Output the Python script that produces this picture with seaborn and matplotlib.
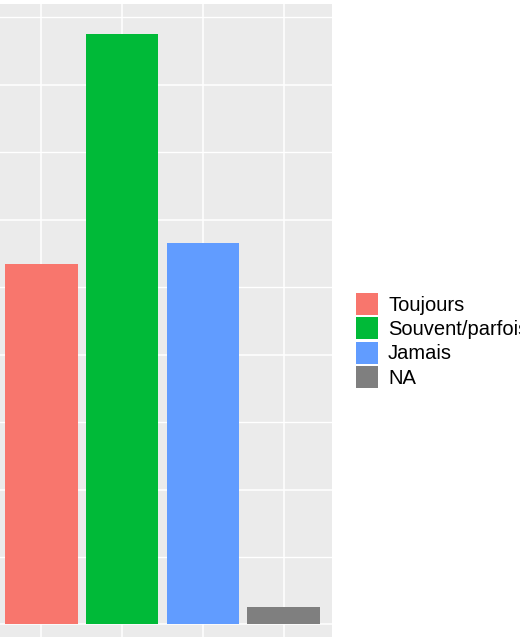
import matplotlib
matplotlib.use("Agg")
import matplotlib.pyplot as plt
import seaborn as sns
import pandas as pd
from matplotlib.ticker import MultipleLocator

# data (percent of answers)
categories = ["Toujours", "Souvent/parfois", "Jamais", "NA"]
percent = [26.7, 43.8, 28.3, 1.3]
colors = ["#F8766D", "#00BA38", "#619CFF", "#7F7F7F"]

plt.rcParams["font.family"] = ["Liberation Sans", "DejaVu Sans"]

df = pd.DataFrame({"reponse": categories, "pct": percent})

W, H = 520, 637
fig = plt.figure(figsize=(W / 100, H / 100), dpi=100)
# the panel is cropped on the left and at the bottom in the reference
ax = fig.add_axes([-7 / W, -17 / H, 339 / W, 650 / H])

sns.barplot(data=df, x="reponse", y="pct", hue="reponse", order=categories,
            hue_order=categories, palette=colors, width=0.9, dodge=False,
            saturation=1, linewidth=0, legend=True, ax=ax)

ax.set_xlim(-0.6, 3.6)
ax.set_ylim(-2.19, 46.0)
ax.set_facecolor("#EBEBEB")
ax.yaxis.set_major_locator(MultipleLocator(10))
ax.yaxis.set_minor_locator(MultipleLocator(5))
ax.grid(which="major", color="white", linewidth=1.1)
ax.grid(which="minor", axis="y", color="white", linewidth=1.0)
ax.set_axisbelow(True)
for s in ax.spines.values():
    s.set_visible(False)
ax.tick_params(which="both", length=0, labelbottom=False, labelleft=False)
ax.set_xlabel("")
ax.set_ylabel("")

# one legend key per bar, taken from the drawn patches
bars = [p for p in ax.patches][:len(categories)]
ax.legend(bars, categories, loc="upper left", bbox_to_anchor=(356 / W, 1 - 293 / H),
          bbox_transform=fig.transFigure, frameon=False, fontsize=14.5,
          handlelength=1.09, handleheight=1.3, labelspacing=0.12,
          handletextpad=0.5, borderpad=0, borderaxespad=0)

fig.savefig("out.png", dpi=100)
